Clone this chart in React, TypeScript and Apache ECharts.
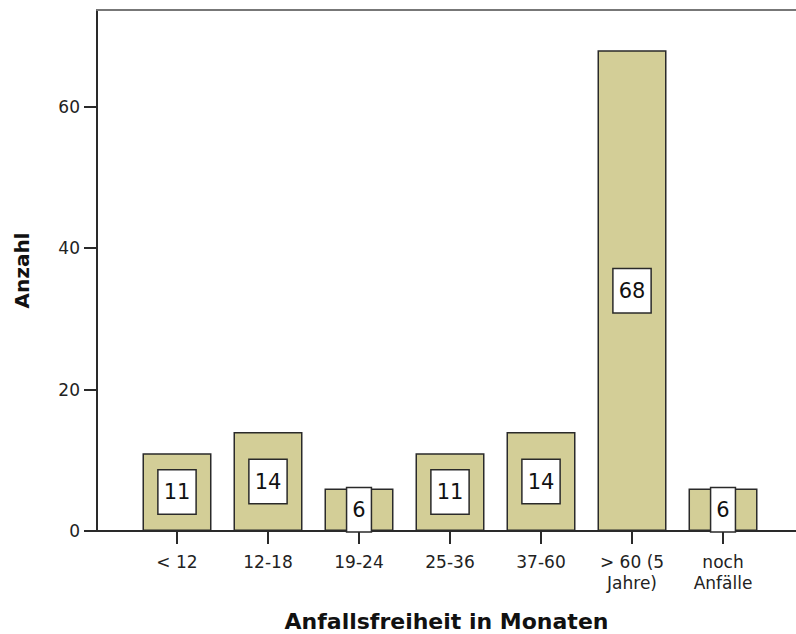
import React, { useEffect, useRef } from "react";
import * as echarts from "echarts";

const categories = ["< 12", "12-18", "19-24", "25-36", "37-60", "> 60 (5\nJahre)", "noch\nAnfälle"];
const counts = [11, 14, 6, 11, 14, 68, 6];
const yTicks = [0, 20, 40, 60];

export default function App() {
  const ref = useRef<HTMLDivElement>(null);
  useEffect(() => {
    if (!ref.current) return;
    const chart = echarts.init(ref.current, null, { renderer: "svg" });
    const idx = categories.map((_, i) => i);
    chart.setOption({
      animation: false,
      backgroundColor: "#ffffff",
      grid: {
        left: 97,
        top: 10,
        right: 0,
        height: 521,
        show: false,
        outerBoundsMode: "none",
        containLabel: false,
      },
      xAxis: [
        {
          type: "value",
          min: -0.879,
          max: 6.802,
          name: "Anfallsfreiheit in Monaten",
          nameLocation: "middle",
          nameGap: 79,
          nameTextStyle: { fontFamily: "DejaVu Sans", fontWeight: "bold", fontSize: 22, color: "#111" },
          axisLine: { show: true, onZero: false, lineStyle: { color: "#2a2a2a", width: 2 } },
          axisTick: { show: true, customValues: idx, length: 13, lineStyle: { color: "#2a2a2a", width: 2 } },
          axisLabel: {
            customValues: idx,
            margin: 20,
            fontFamily: "DejaVu Sans",
            fontSize: 17,
            lineHeight: 21,
            color: "#222",
            formatter: (v: number) => categories[Math.round(v)] ?? "",
          },
          splitLine: { show: false },
        },
        {
          type: "value",
          position: "top",
          min: -0.879,
          max: 6.802,
          axisLine: { show: true, onZero: false, lineStyle: { color: "#777777", width: 2 } },
          axisTick: { show: false },
          axisLabel: { show: false },
          splitLine: { show: false },
        },
      ],
      yAxis: {
        type: "value",
        min: 0,
        max: 73.7,
        interval: 20,
        name: "Anzahl",
        nameLocation: "middle",
        nameGap: 65,
        nameTextStyle: { fontFamily: "DejaVu Sans", fontWeight: "bold", fontSize: 20, color: "#111" },
        axisLine: { show: true, onZero: false, lineStyle: { color: "#2a2a2a", width: 2 } },
        axisTick: { show: true, length: 13, lineStyle: { color: "#2a2a2a", width: 2 } },
        axisLabel: {
          margin: 17,
          fontFamily: "DejaVu Sans",
          fontSize: 17,
          color: "#222",
          showMaxLabel: false,
          formatter: (v: number) => (yTicks.includes(v) ? String(v) : ""),
        },
        splitLine: { show: false },
      },
      series: [
        {
          type: "bar",
          xAxisIndex: 0,
          barWidth: 69,
          data: counts.map((c, i) => [i, c]),
          itemStyle: { color: "#d3ce97", borderColor: "#2a2a2a", borderWidth: 1.5 },
          label: {
            show: true,
            position: "inside",
            fontFamily: "DejaVu Sans",
            fontSize: 21,
            color: "#111",
            backgroundColor: "#ffffff",
            borderColor: "#2a2a2a",
            borderWidth: 1.5,
            padding: [11, 5, 11, 5],
            formatter: (p: any) => String(p.value[1]),
          },
        },
      ],
    });
    return () => chart.dispose();
  }, []);
  return (
    <div
      ref={ref}
      style={{ position: "fixed", left: 0, top: 0, width: 796, height: 634, background: "#fff" }}
    />
  );
}
